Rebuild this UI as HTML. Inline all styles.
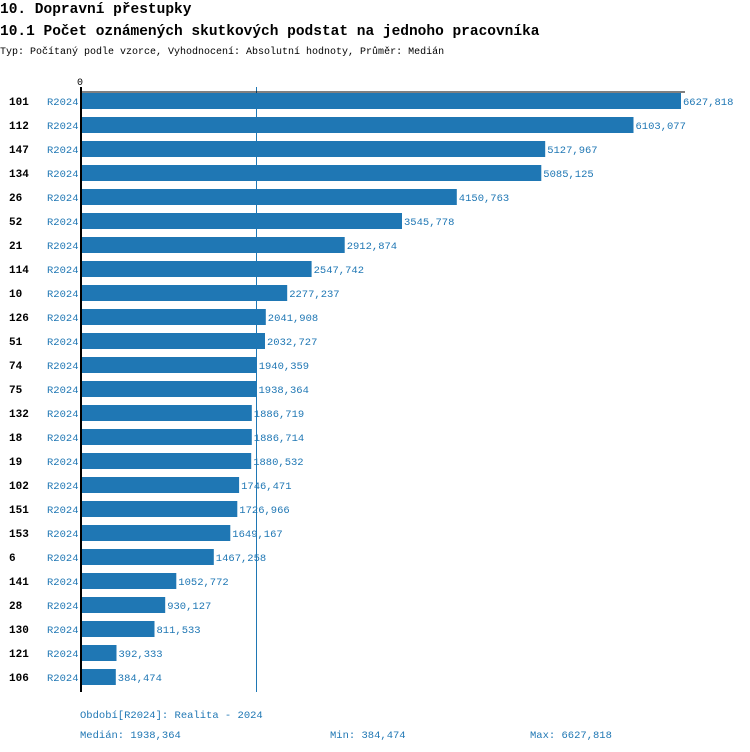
<!DOCTYPE html>
<html><head><meta charset="utf-8"><style>
body{margin:0;background:#fff}
svg{display:block;font-family:"Liberation Mono","DejaVu Sans Mono",monospace}
.id{font-size:11px;font-weight:bold;fill:#000}
.p{font-size:10.5px;fill:#1f77b4}
.v{font-size:10.5px;fill:#1f77b4}
.b{fill:#1f77b4}
</style></head><body>
<svg width="750" height="752" xmlns="http://www.w3.org/2000/svg">
<text x="0" y="13" font-size="14.5" font-weight="bold" fill="#000">10. Dopravní přestupky</text>
<text x="0" y="35" font-size="14.5" font-weight="bold" fill="#000">10.1 Počet oznámených skutkových podstat na jednoho pracovníka</text>
<text x="0" y="54" font-size="10" fill="#000">Typ: Počítaný podle vzorce, Vyhodnocení: Absolutní hodnoty, Průměr: Medián</text>
<text x="77" y="85" font-size="10" fill="#000">0</text>
<line x1="256.5" y1="87" x2="256.5" y2="692" stroke="#1f77b4" stroke-width="1"/>

<rect class="b" x="81" y="93" width="600.0" height="16"/>
<rect class="b" x="81" y="117" width="552.5" height="16"/>
<rect class="b" x="81" y="141" width="464.2" height="16"/>
<rect class="b" x="81" y="165" width="460.3" height="16"/>
<rect class="b" x="81" y="189" width="375.8" height="16"/>
<rect class="b" x="81" y="213" width="321.0" height="16"/>
<rect class="b" x="81" y="237" width="263.7" height="16"/>
<rect class="b" x="81" y="261" width="230.6" height="16"/>
<rect class="b" x="81" y="285" width="206.2" height="16"/>
<rect class="b" x="81" y="309" width="184.8" height="16"/>
<rect class="b" x="81" y="333" width="184.0" height="16"/>
<rect class="b" x="81" y="357" width="175.7" height="16"/>
<rect class="b" x="81" y="381" width="175.5" height="16"/>
<rect class="b" x="81" y="405" width="170.8" height="16"/>
<rect class="b" x="81" y="429" width="170.8" height="16"/>
<rect class="b" x="81" y="453" width="170.2" height="16"/>
<rect class="b" x="81" y="477" width="158.1" height="16"/>
<rect class="b" x="81" y="501" width="156.3" height="16"/>
<rect class="b" x="81" y="525" width="149.3" height="16"/>
<rect class="b" x="81" y="549" width="132.8" height="16"/>
<rect class="b" x="81" y="573" width="95.3" height="16"/>
<rect class="b" x="81" y="597" width="84.2" height="16"/>
<rect class="b" x="81" y="621" width="73.5" height="16"/>
<rect class="b" x="81" y="645" width="35.5" height="16"/>
<rect class="b" x="81" y="669" width="34.8" height="16"/>

<g class="id">
<text class="id" x="9" y="105">101</text>
<text class="id" x="9" y="129">112</text>
<text class="id" x="9" y="153">147</text>
<text class="id" x="9" y="177">134</text>
<text class="id" x="9" y="201">26</text>
<text class="id" x="9" y="225">52</text>
<text class="id" x="9" y="249">21</text>
<text class="id" x="9" y="273">114</text>
<text class="id" x="9" y="297">10</text>
<text class="id" x="9" y="321">126</text>
<text class="id" x="9" y="345">51</text>
<text class="id" x="9" y="369">74</text>
<text class="id" x="9" y="393">75</text>
<text class="id" x="9" y="417">132</text>
<text class="id" x="9" y="441">18</text>
<text class="id" x="9" y="465">19</text>
<text class="id" x="9" y="489">102</text>
<text class="id" x="9" y="513">151</text>
<text class="id" x="9" y="537">153</text>
<text class="id" x="9" y="561">6</text>
<text class="id" x="9" y="585">141</text>
<text class="id" x="9" y="609">28</text>
<text class="id" x="9" y="633">130</text>
<text class="id" x="9" y="657">121</text>
<text class="id" x="9" y="681">106</text>
</g>

<text class="p" x="47" y="105">R2024</text>
<text class="p" x="47" y="129">R2024</text>
<text class="p" x="47" y="153">R2024</text>
<text class="p" x="47" y="177">R2024</text>
<text class="p" x="47" y="201">R2024</text>
<text class="p" x="47" y="225">R2024</text>
<text class="p" x="47" y="249">R2024</text>
<text class="p" x="47" y="273">R2024</text>
<text class="p" x="47" y="297">R2024</text>
<text class="p" x="47" y="321">R2024</text>
<text class="p" x="47" y="345">R2024</text>
<text class="p" x="47" y="369">R2024</text>
<text class="p" x="47" y="393">R2024</text>
<text class="p" x="47" y="417">R2024</text>
<text class="p" x="47" y="441">R2024</text>
<text class="p" x="47" y="465">R2024</text>
<text class="p" x="47" y="489">R2024</text>
<text class="p" x="47" y="513">R2024</text>
<text class="p" x="47" y="537">R2024</text>
<text class="p" x="47" y="561">R2024</text>
<text class="p" x="47" y="585">R2024</text>
<text class="p" x="47" y="609">R2024</text>
<text class="p" x="47" y="633">R2024</text>
<text class="p" x="47" y="657">R2024</text>
<text class="p" x="47" y="681">R2024</text>

<text class="v" x="683.0" y="105">6627,818</text>
<text class="v" x="635.5" y="129">6103,077</text>
<text class="v" x="547.2" y="153">5127,967</text>
<text class="v" x="543.3" y="177">5085,125</text>
<text class="v" x="458.8" y="201">4150,763</text>
<text class="v" x="404.0" y="225">3545,778</text>
<text class="v" x="346.7" y="249">2912,874</text>
<text class="v" x="313.6" y="273">2547,742</text>
<text class="v" x="289.2" y="297">2277,237</text>
<text class="v" x="267.8" y="321">2041,908</text>
<text class="v" x="267.0" y="345">2032,727</text>
<text class="v" x="258.7" y="369">1940,359</text>
<text class="v" x="258.5" y="393">1938,364</text>
<text class="v" x="253.8" y="417">1886,719</text>
<text class="v" x="253.8" y="441">1886,714</text>
<text class="v" x="253.2" y="465">1880,532</text>
<text class="v" x="241.1" y="489">1746,471</text>
<text class="v" x="239.3" y="513">1726,966</text>
<text class="v" x="232.3" y="537">1649,167</text>
<text class="v" x="215.8" y="561">1467,258</text>
<text class="v" x="178.3" y="585">1052,772</text>
<text class="v" x="167.2" y="609">930,127</text>
<text class="v" x="156.5" y="633">811,533</text>
<text class="v" x="118.5" y="657">392,333</text>
<text class="v" x="117.8" y="681">384,474</text>

<line x1="80" y1="92" x2="685" y2="92" stroke="#000" stroke-width="1"/>
<line x1="81" y1="87" x2="81" y2="692" stroke="#000" stroke-width="2"/>
<text class="v" x="80" y="718">Období[R2024]: Realita - 2024</text>
<text class="v" x="80" y="738">Medián: 1938,364</text>
<text class="v" x="330" y="738">Min: 384,474</text>
<text class="v" x="530" y="738">Max: 6627,818</text>
</svg>
</body></html>
